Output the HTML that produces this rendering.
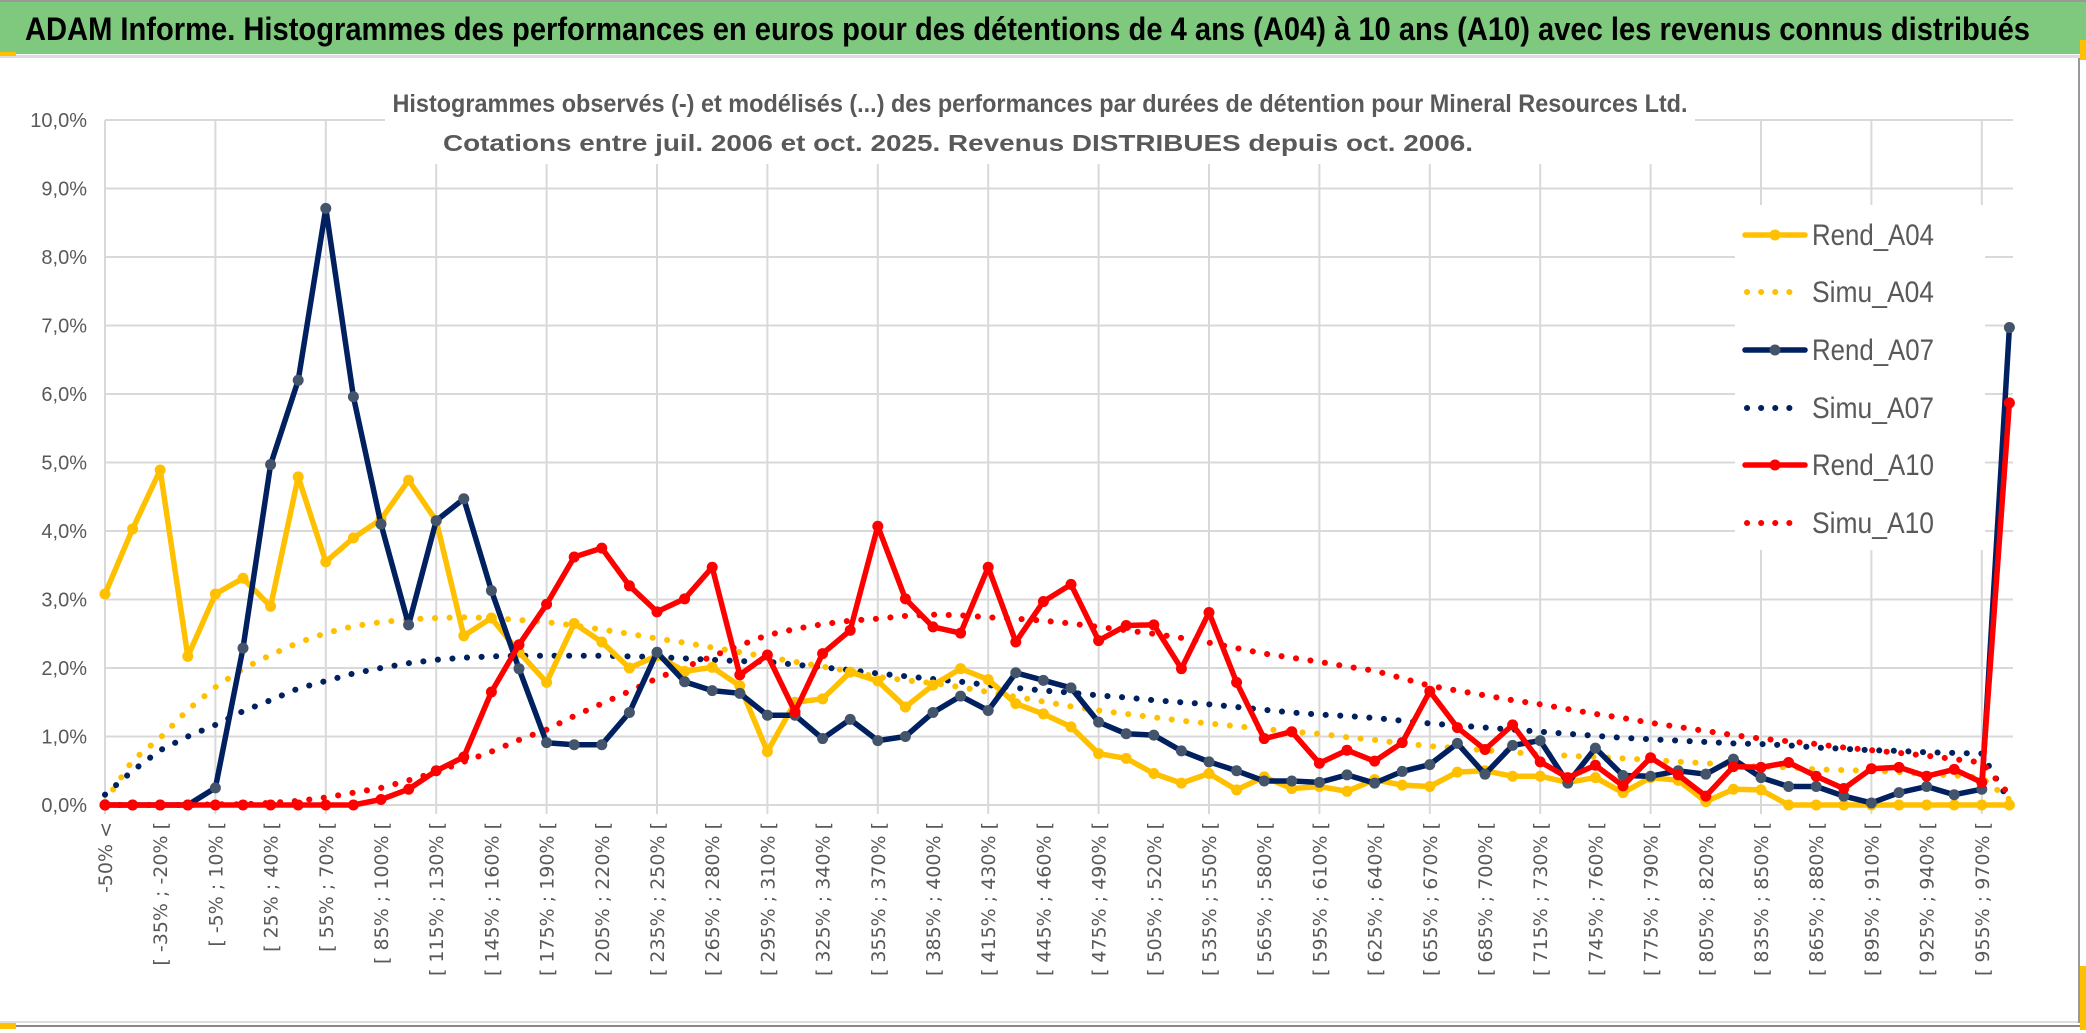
<!DOCTYPE html>
<html><head><meta charset="utf-8"><style>
html,body{margin:0;padding:0;background:#fff;width:2086px;height:1033px;overflow:hidden}
svg{display:block}
</style></head><body>
<svg id="chart" width="2086" height="1033" viewBox="0 0 2086 1033" xmlns="http://www.w3.org/2000/svg">
<rect x="0" y="0" width="2086" height="1033" fill="#fff"/>
<rect x="0" y="2" width="2086" height="52" fill="#7fc97f"/>
<rect x="0" y="0" width="2086" height="2" fill="#999"/>
<rect x="0" y="55" width="2086" height="3" fill="#ddd"/>
<rect x="0" y="52" width="16" height="4" fill="#ffc000"/>
<text x="25" y="40" font-family="Liberation Sans, sans-serif" font-size="32" font-weight="bold" fill="#000" textLength="2005" lengthAdjust="spacingAndGlyphs">ADAM Informe. Histogrammes des performances en euros pour des détentions de 4 ans (A04) à 10 ans (A10) avec les revenus connus distribués</text>
<rect x="0" y="1021" width="2086" height="2" fill="#ddd"/>
<rect x="0" y="1025" width="2086" height="2" fill="#888"/>
<rect x="0" y="1023" width="16" height="6" fill="#ffc000"/>
<rect x="2078" y="58" width="2" height="965" fill="#999"/>
<rect x="2080" y="966" width="6" height="64" fill="#ffc000"/>
<rect x="2080" y="40" width="6" height="20" fill="#ffc000"/>
<g id="grid"></g>
<rect x="385" y="72" width="1310" height="92" fill="#fff"/>
<text x="1040" y="112" text-anchor="middle" font-family="Liberation Sans, sans-serif" font-size="25" font-weight="bold" fill="#595959" textLength="1295" lengthAdjust="spacingAndGlyphs">Histogrammes observés (-) et modélisés (...) des performances par durées de détention pour Mineral Resources Ltd.</text>
<text x="958" y="151" text-anchor="middle" font-family="Liberation Sans, sans-serif" font-size="23" font-weight="bold" fill="#595959" textLength="1030" lengthAdjust="spacingAndGlyphs">Cotations entre juil. 2006 et oct. 2025. Revenus DISTRIBUES depuis oct. 2006.</text>
<g id="yaxis"></g>
<g id="xaxis"></g>
<g id="series"></g>
<g id="legend"></g>
</svg>
<script>
const categories = ["-50% <"];
for (let k = 1; k < 70; k++) { const a = -50 + 15 * (k - 1); categories.push("[ " + a + "% ; " + (a + 15) + "% ["); }
const yTicks = [0,1,2,3,4,5,6,7,8,9,10];
const yTickLabels = ["0,0%","1,0%","2,0%","3,0%","4,0%","5,0%","6,0%","7,0%","8,0%","9,0%","10,0%"];
const rendA04 = [3.08,4.03,4.89,2.17,3.08,3.31,2.9,4.79,3.55,3.9,4.17,4.74,4.15,2.47,2.73,2.23,1.79,2.65,2.38,2.0,2.18,1.95,2.01,1.74,0.78,1.5,1.55,1.94,1.81,1.43,1.75,1.99,1.83,1.48,1.33,1.14,0.75,0.68,0.46,0.32,0.46,0.22,0.41,0.24,0.27,0.2,0.37,0.29,0.27,0.48,0.5,0.42,0.42,0.33,0.4,0.18,0.4,0.36,0.05,0.23,0.22,0,0,0,0,0,0,0,0,0];
const simuA04 = [0.05,0.65,0.98,1.39,1.72,1.99,2.19,2.37,2.51,2.61,2.67,2.71,2.73,2.74,2.73,2.7,2.67,2.62,2.56,2.5,2.43,2.37,2.3,2.23,2.16,2.09,2.02,1.95,1.87,1.82,1.78,1.72,1.65,1.58,1.51,1.44,1.38,1.33,1.28,1.23,1.19,1.15,1.11,1.07,1.04,0.99,0.95,0.9,0.86,0.83,0.8,0.77,0.74,0.72,0.7,0.68,0.66,0.63,0.61,0.58,0.56,0.55,0.52,0.51,0.5,0.48,0.45,0.43,0.4,0.08];
const rendA07 = [0,0,0,0,0.25,2.29,4.97,6.2,8.71,5.96,4.1,2.63,4.15,4.47,3.13,1.99,0.91,0.88,0.88,1.35,2.23,1.8,1.67,1.63,1.31,1.31,0.97,1.25,0.94,1.0,1.35,1.59,1.38,1.93,1.82,1.71,1.21,1.04,1.02,0.79,0.63,0.5,0.35,0.35,0.33,0.44,0.32,0.49,0.59,0.9,0.45,0.87,0.94,0.32,0.83,0.43,0.42,0.5,0.45,0.67,0.4,0.27,0.27,0.13,0.03,0.18,0.27,0.15,0.23,6.97];
const simuA07 = [0.15,0.5,0.8,1.0,1.17,1.37,1.53,1.7,1.81,1.92,2.0,2.07,2.12,2.15,2.17,2.18,2.18,2.18,2.18,2.17,2.16,2.14,2.12,2.1,2.09,2.05,2.01,1.97,1.92,1.88,1.84,1.8,1.75,1.71,1.67,1.64,1.6,1.57,1.53,1.5,1.47,1.43,1.39,1.35,1.32,1.3,1.27,1.23,1.19,1.16,1.13,1.1,1.07,1.04,1.01,0.98,0.96,0.94,0.92,0.9,0.89,0.87,0.84,0.82,0.8,0.79,0.77,0.76,0.75,0.05];
const rendA10 = [0,0,0,0,0,0,0,0,0,0,0.08,0.23,0.5,0.7,1.65,2.34,2.93,3.62,3.75,3.2,2.82,3.01,3.47,1.9,2.19,1.36,2.21,2.55,4.07,3.01,2.6,2.51,3.47,2.38,2.97,3.22,2.4,2.62,2.63,1.99,2.81,1.79,0.97,1.07,0.61,0.8,0.64,0.91,1.66,1.13,0.81,1.17,0.63,0.4,0.58,0.28,0.69,0.44,0.13,0.56,0.55,0.62,0.42,0.24,0.53,0.55,0.42,0.52,0.33,5.87];
const simuA10 = [0,0,0,0,0.01,0.01,0.03,0.06,0.11,0.18,0.25,0.36,0.48,0.63,0.78,0.95,1.1,1.3,1.48,1.66,1.85,2.01,2.17,2.33,2.48,2.57,2.64,2.69,2.72,2.76,2.78,2.77,2.74,2.72,2.69,2.65,2.6,2.55,2.5,2.44,2.37,2.29,2.21,2.15,2.09,2.02,1.96,1.85,1.74,1.67,1.6,1.53,1.47,1.4,1.33,1.27,1.2,1.14,1.08,1.02,0.97,0.93,0.89,0.84,0.8,0.76,0.72,0.67,0.62,0.15];
const seriesNames = ["Rend_A04","Simu_A04","Rend_A07","Simu_A07","Rend_A10","Simu_A10"];

const NS = "http://www.w3.org/2000/svg";
const X0 = 105, X1 = 2009.4, Y0 = 805, Y1 = 120, YMAX = 10;
function xPos(i){ return X0 + i * (X1 - X0) / (categories.length - 1); }
function yPos(v){ return Y0 - v * (Y0 - Y1) / YMAX; }
function mk(tag, attrs, parent){ const e = document.createElementNS(NS, tag); for (const k in attrs) e.setAttribute(k, attrs[k]); parent.appendChild(e); return e; }

const grid = document.getElementById('grid');
yTicks.forEach(function(t){
  const l = mk('line', {x1: X0, x2: 2013, y1: yPos(t), y2: yPos(t), stroke: '#d9d9d9', 'stroke-width': 2}, grid);
  
  
});
for (let i = 0; i < categories.length; i += 4) {
  const l = mk('line', {x1: xPos(i), x2: xPos(i), y1: Y1, y2: Y0 + 9, stroke: '#d9d9d9', 'stroke-width': 2}, grid);
  
  
}
const yax = document.getElementById('yaxis');
yTicks.forEach(function(t, k){
  const tx = mk('text', {x: 87, y: yPos(t) + 7, 'text-anchor': 'end', 'font-family': 'Liberation Sans, sans-serif', 'font-size': 20, fill: '#595959'}, yax);
  tx.textContent = yTickLabels[k];
  
  
});
const xax = document.getElementById('xaxis');
for (let i = 0; i < categories.length; i += 2) {
  const x = xPos(i) + 7, y = 822;
  const tx = mk('text', {x: x, y: y, 'text-anchor': 'end', transform: 'rotate(-90 ' + x + ' ' + y + ')', 'font-family': 'DejaVu Sans, sans-serif', 'font-size': 19, fill: '#595959'}, xax);
  tx.textContent = categories[i];
  
  
}

const sg = document.getElementById('series');
function pathOf(vals){ return vals.map(function(v, i){ return (i ? 'L' : 'M') + xPos(i).toFixed(1) + ' ' + yPos(v).toFixed(1); }).join(' '); }
function dotted(vals, color, name){
  const p = mk('path', {d: pathOf(vals), fill: 'none', stroke: color, 'stroke-width': 6, 'stroke-linecap': 'round', 'stroke-dasharray': '0.1 14.5'}, sg);
  
  
}
function solid(vals, color, marker, name){
  const p = mk('path', {d: pathOf(vals), fill: 'none', stroke: color, 'stroke-width': 5.5, 'stroke-linejoin': 'round'}, sg);
  
  
  vals.forEach(function(v, i){
    const c = mk('circle', {cx: xPos(i), cy: yPos(v), r: 5.5, fill: marker}, sg);
    
    
  });
}
dotted(simuA04, '#ffc000', 'simu-a04-line');
dotted(simuA07, '#002060', 'simu-a07-line');
dotted(simuA10, '#ff0000', 'simu-a10-line');
solid(rendA04, '#ffc000', '#ffc000', 'rend-a04-line');
solid(rendA07, '#002060', '#44546a', 'rend-a07-line');
solid(rendA10, '#ff0000', '#ff0000', 'rend-a10-line');

const lg = document.getElementById('legend');
const bg = mk('rect', {x: 1735, y: 205, width: 250, height: 345, fill: '#fff'}, lg);


const legColors = ['#ffc000','#ffc000','#002060','#002060','#ff0000','#ff0000'];
const legRows = [235, 292, 350, 408, 465, 523];
seriesNames.forEach(function(n, k){
  const y = legRows[k];
  if (k % 2 === 0) {
    const l = mk('line', {x1: 1745, x2: 1805, y1: y, y2: y, stroke: legColors[k], 'stroke-width': 5.5, 'stroke-linecap': 'round'}, lg);
    
    
    const c = mk('circle', {cx: 1775, cy: y, r: 5.5, fill: k === 2 ? '#44546a' : legColors[k]}, lg);
    
    
  } else {
    const l = mk('line', {x1: 1747, x2: 1803, y1: y, y2: y, stroke: legColors[k], 'stroke-width': 6, 'stroke-linecap': 'round', 'stroke-dasharray': '0.1 14'}, lg);
    
    
  }
  const t = mk('text', {x: 1812, y: y + 10, 'font-family': 'Liberation Sans, sans-serif', 'font-size': 30, fill: '#595959', textLength: 122, lengthAdjust: 'spacingAndGlyphs'}, lg);
  t.textContent = n;
  
  
});
</script>
</body></html>
